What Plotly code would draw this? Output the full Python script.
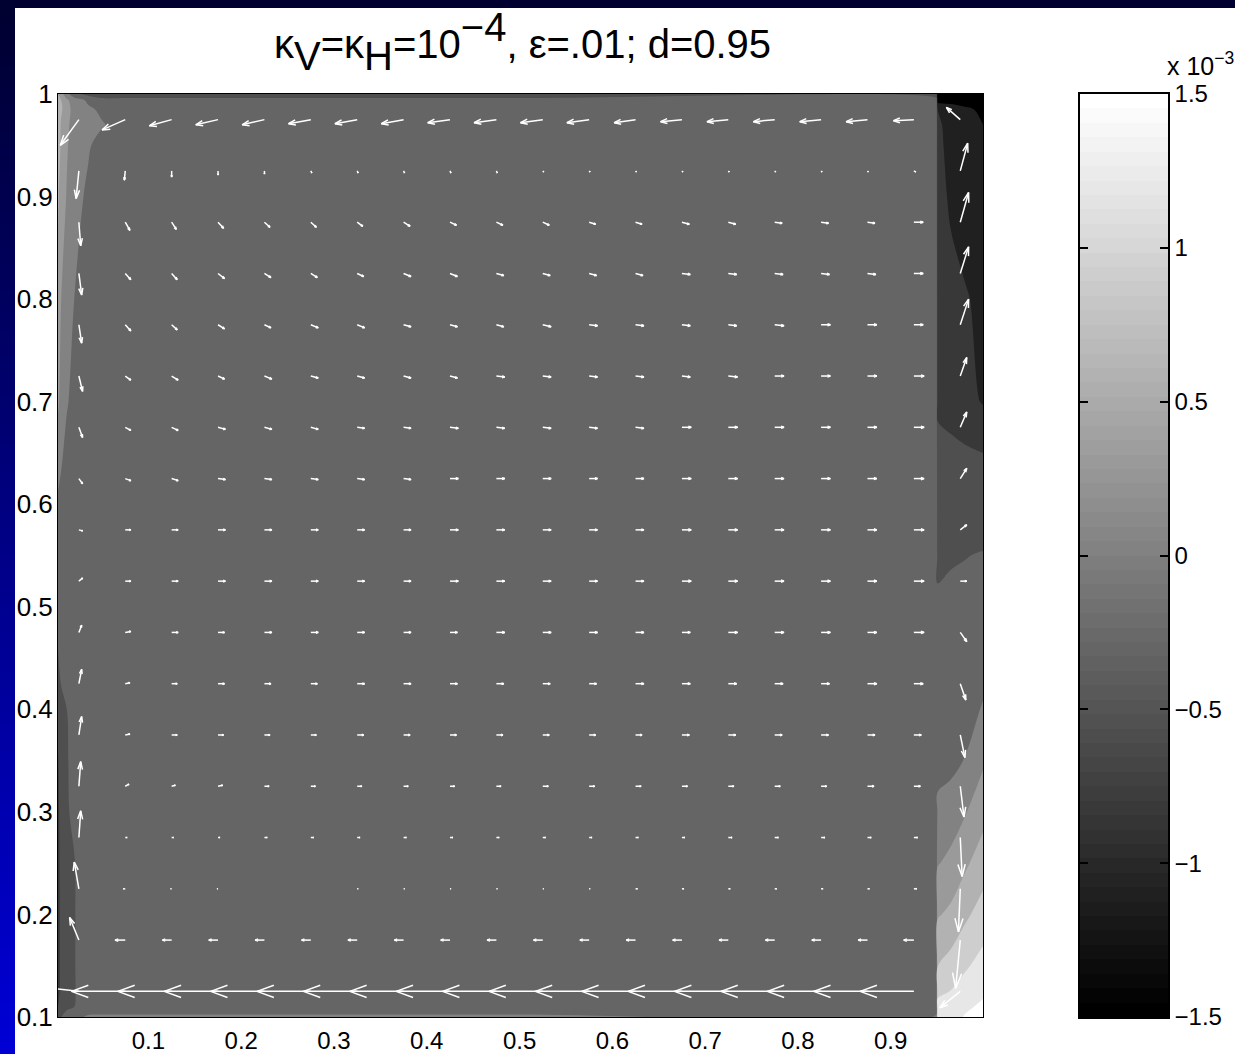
import plotly.graph_objects as go
import plotly.figure_factory as ff

# ---------------- data ----------------
# scalar field (units of 1e-3) on a non-uniform grid
field_x = [0.0025, 0.006, 0.012, 0.02, 0.035, 0.05, 0.08, 0.5, 0.9495, 0.9505, 0.965, 0.98, 0.9995]
field_y = [0.1, 0.11, 0.125, 0.15, 0.2, 0.25, 0.3, 0.35, 0.4, 0.45, 0.5, 0.55, 0.6, 0.65, 0.7, 0.8,
           0.9, 0.95, 0.97, 0.985, 0.994, 1.0]
field_z = [
    [-0.40, -0.30, -0.20, -0.10, 0.05, 0.05, 0.05, 0.05, 0.05, 1.35, 1.38, 1.52, 1.60],
    [-0.60, -0.45, -0.35, -0.30, -0.20, -0.15, -0.15, -0.15, -0.15, 1.28, 1.30, 1.45, 1.55],
    [-0.70, -0.50, -0.38, -0.31, -0.20, -0.15, -0.15, -0.15, -0.15, 1.13, 1.21, 1.335, 1.45],
    [-0.72, -0.50, -0.38, -0.31, -0.18, -0.15, -0.15, -0.15, -0.15, 0.893, 1.015, 1.155, 1.31],
    [-0.72, -0.50, -0.38, -0.31, -0.18, -0.15, -0.15, -0.15, -0.15, 0.57, 0.667, 0.84, 1.027],
    [-0.70, -0.48, -0.36, -0.31, -0.18, -0.15, -0.15, -0.15, -0.15, 0.28, 0.38, 0.545, 0.755],
    [-0.68, -0.45, -0.33, -0.24, -0.16, -0.15, -0.15, -0.15, -0.15, 0.05, 0.14, 0.275, 0.50],
    [-0.62, -0.42, -0.32, -0.22, -0.15, -0.15, -0.15, -0.15, -0.15, -0.08, -0.08, 0.01, 0.255],
    [-0.50, -0.38, -0.30, -0.20, -0.15, -0.15, -0.15, -0.15, -0.15, -0.12, -0.10, -0.10, 0.02],
    [-0.32, -0.20, -0.15, -0.15, -0.15, -0.15, -0.15, -0.15, -0.15, -0.15, -0.12, -0.10, -0.10],
    [-0.20, -0.15, -0.15, -0.15, -0.15, -0.15, -0.15, -0.15, -0.15, -0.25, -0.22, -0.20, -0.18],
    [-0.15, -0.15, -0.15, -0.15, -0.15, -0.15, -0.15, -0.15, -0.15, -0.36, -0.33, -0.31, -0.28],
    [-0.05, -0.10, -0.15, -0.15, -0.15, -0.15, -0.15, -0.15, -0.15, -0.42, -0.44, -0.46, -0.50],
    [0.15, 0.05, -0.10, -0.15, -0.15, -0.15, -0.15, -0.15, -0.15, -0.50, -0.53, -0.56, -0.60],
    [0.35, 0.20, 0.03, -0.10, -0.15, -0.15, -0.15, -0.15, -0.15, -0.66, -0.72, -0.80, -0.92],
    [0.50, 0.30, 0.12, 0.00, -0.10, -0.15, -0.15, -0.15, -0.15, -0.72, -0.80, -0.87, -0.98],
    [0.65, 0.45, 0.28, 0.10, -0.05, -0.15, -0.15, -0.15, -0.15, -0.78, -0.95, -1.05, -1.05],
    [0.75, 0.55, 0.33, 0.15, 0.03, -0.10, -0.15, -0.15, -0.15, -0.82, -1.00, -1.05, -1.10],
    [0.80, 0.55, 0.35, 0.20, 0.10, 0.02, -0.15, -0.15, -0.15, -0.85, -1.00, -1.05, -1.20],
    [0.90, 0.65, 0.40, 0.20, 0.05, -0.05, -0.15, -0.15, -0.15, -0.90, -1.00, -1.10, -1.30],
    [0.85, 0.60, 0.35, 0.15, -0.05, -0.20, -0.20, -0.20, -0.20, -1.30, -1.35, -1.45, -1.60],
    [0.60, 0.40, 0.10, -0.20, -0.40, -0.50, -0.50, -0.50, -0.50, -1.60, -1.60, -1.60, -1.60],
]

# quiver grid
quiver_x = [0.025, 0.075, 0.125, 0.175, 0.225, 0.275, 0.325, 0.375, 0.425, 0.475,
            0.525, 0.575, 0.625, 0.675, 0.725, 0.775, 0.825, 0.875, 0.925, 0.975]
quiver_y = [0.125, 0.175, 0.225, 0.275, 0.325, 0.375, 0.425, 0.475, 0.525,
            0.575, 0.625, 0.675, 0.725, 0.775, 0.825, 0.875, 0.925, 0.975]
# displayed vector components (units of 1e-3 of the axis), rows from bottom to top
quiver_u = [
    [-50, -58, -58, -58, -58, -58, -58, -58, -58, -58, -58, -58, -58, -58, -58, -58, -58, -58, -58, -22],
    [-10, -11, -10, -10, -10, -10, -10, -10, -10, -10, -10, -10, -10, -10, -10, -10, -10, -10, -11, -5],
    [-5, -2, -1, -1, 0, 0, 1, 1, 1, 1, 1, 1, 2, 2, 2, 2, 2, 2, 3, -2],
    [2, 2, 2, 2, 3, 3, 3, 3, 3, 3, 3, 3, 3, 3, 4, 4, 4, 4, 4, 2],
    [2, 4, 4, 5, 5, 5, 5, 5, 5, 5, 6, 6, 6, 6, 6, 6, 6, 7, 7, 4],
    [3, 5, 6, 6, 6, 6, 7, 7, 7, 7, 7, 7, 7, 8, 8, 8, 8, 8, 8, 5],
    [3, 5, 6, 7, 7, 7, 8, 8, 8, 8, 8, 8, 9, 9, 9, 9, 9, 10, 10, 6],
    [3, 6, 7, 7, 8, 8, 8, 8, 8, 9, 9, 9, 9, 9, 10, 10, 10, 10, 11, 7],
    [4, 6, 7, 8, 8, 8, 8, 8, 9, 9, 9, 9, 9, 10, 10, 10, 10, 10, 11, 7],
    [4, 6, 7, 8, 8, 8, 8, 8, 9, 9, 9, 9, 9, 10, 10, 10, 10, 10, 11, 7],
    [4, 6, 7, 8, 8, 8, 8, 8, 9, 9, 9, 9, 9, 10, 10, 10, 10, 10, 11, 7],
    [4, 6, 7, 8, 8, 8, 8, 8, 9, 9, 9, 9, 9, 10, 10, 10, 10, 10, 11, 7],
    [4, 6, 7, 7, 8, 8, 8, 8, 8, 9, 9, 9, 9, 9, 10, 10, 10, 10, 11, 7],
    [3, 6, 6, 7, 7, 8, 8, 8, 8, 8, 9, 9, 9, 9, 9, 10, 10, 10, 10, 9],
    [3, 6, 6, 7, 7, 7, 7, 8, 8, 8, 8, 8, 8, 9, 9, 9, 9, 9, 10, 9],
    [2, 5, 5, 6, 6, 6, 6, 7, 7, 7, 7, 7, 7, 8, 8, 8, 8, 8, 10, 9],
    [-3, -1, 0, 0, 0, 1, 1, 1, 1, 1, 1, 1, 1, 1, 1, 1, 1, 1, 2, 8],
    [-20, -25, -24, -24, -24, -24, -24, -24, -24, -24, -24, -24, -23, -23, -23, -23, -23, -23, -22, -15],
]
quiver_v = [
    [5, 0, 0, 0, 0, 0, 0, 0, 0, 0, 0, 0, 0, 0, 0, 0, 0, 0, 0, -16],
    [22, 0, 0, 0, 0, 0, 0, 0, 0, 0, 0, 0, 0, 0, 0, 0, 0, 0, 0, -47],
    [26, 0, 0, 0, 0, 0, 0, 0, 0, 0, 0, 0, 0, 0, 0, 0, 0, 0, 0, -42],
    [26, 0, 0, 0, 0, 0, 0, 0, 0, 0, 0, 0, 0, 0, 0, 0, 0, 0, 0, -38],
    [24, 2, 1, 1, 0, 0, 0, 0, 0, 0, 0, 0, 0, 0, 0, 0, 0, 0, 0, -30],
    [18, 1, 0, 0, 0, 0, 0, 0, 0, 0, 0, 0, 0, 0, 0, 0, 0, 0, 0, -22],
    [14, 1, 0, 0, 0, 0, 0, 0, 0, 0, 0, 0, 0, 0, 0, 0, 0, 0, 0, -16],
    [7, 1, 0, 0, 0, 0, 0, 0, 0, 0, 0, 0, 0, 0, 0, 0, 0, 0, 0, -9],
    [3, 0, 0, 0, 0, 0, 0, 0, 0, 0, 0, 0, 0, 0, 0, 0, 0, 0, 0, 0],
    [-1, 0, 0, 0, 0, 0, 0, 0, 0, 0, 0, 0, 0, 0, 0, 0, 0, 0, 0, 5],
    [-5, -2, -2, -1, -1, -1, -1, -1, 0, 0, 0, 0, 0, 0, 0, 0, 0, 0, 0, 10],
    [-10, -3, -3, -2, -2, -2, -1, -1, -1, -1, -1, -1, -1, 0, 0, 0, 0, 0, 0, 15],
    [-15, -4, -4, -3, -3, -2, -2, -2, -2, -1, -1, -1, -1, -1, -1, 0, 0, 0, 0, 18],
    [-18, -6, -5, -4, -3, -3, -3, -2, -2, -2, -2, -1, -1, -1, -1, -1, 0, 0, 0, 25],
    [-21, -6, -6, -5, -4, -4, -3, -3, -3, -2, -2, -2, -2, -1, -1, -1, -1, -1, 0, 26],
    [-23, -8, -7, -6, -5, -5, -4, -4, -3, -3, -3, -2, -2, -2, -2, -1, -1, -1, 0, 29],
    [-27, -9, -6, -4, -3, -2, -2, -2, -2, -2, -1, -1, -1, -1, -1, -1, -1, -1, -1, 27],
    [-25, -10, -6, -5, -5, -4, -4, -4, -3, -3, -3, -3, -3, -2, -2, -2, -2, -2, -1, 12],
]

contour_levels = [-1.5, -1.2, -0.9, -0.6, -0.3, 0.0, 0.3, 0.6, 0.9, 1.2, 1.5]
level_grays = [0, 32, 56, 79, 101, 130, 154, 178, 206, 231, 255]   # gray colour of each level
x_ticks = [0.1, 0.2, 0.3, 0.4, 0.5, 0.6, 0.7, 0.8, 0.9]
y_ticks = [0.1, 0.2, 0.3, 0.4, 0.5, 0.6, 0.7, 0.8, 0.9, 1.0]
cbar_ticks = [-1.5, -1, -0.5, 0, 0.5, 1, 1.5]
n_gray = 64

# ---------------- figure ----------------
W, H = 1235, 1054
FONT = "Liberation Sans, Arial, Helvetica, sans-serif"


def px_x(p):
    return p / W


def px_y(p):
    return 1 - p / H


# contour colour scale: band above level k gets the gray of level k
n_lv = len(contour_levels)
cscale = [[0.0, "rgb(0,0,0)"]]
for k, g in enumerate(level_grays):
    cscale.append([(k + 1) / n_lv, f"rgb({g},{g},{g})"])

fig = go.Figure()
fig.add_trace(go.Contour(
    x=field_x, y=field_y, z=field_z,
    autocontour=False,
    contours=dict(start=contour_levels[0], end=contour_levels[-1],
                  size=contour_levels[1] - contour_levels[0],
                  coloring="fill", showlines=False),
    line=dict(width=0),
    colorscale=cscale, showscale=False, hoverinfo="skip",
))

qx, qy, qu, qv = [], [], [], []
for j, yy in enumerate(quiver_y):
    for i, xx in enumerate(quiver_x):
        qx.append(xx)
        qy.append(yy)
        qu.append(quiver_u[j][i])
        qv.append(quiver_v[j][i])
q = ff.create_quiver(qx, qy, qu, qv, scale=0.001, arrow_scale=0.33, angle=0.32,
                     line=dict(color="white", width=1.5))
for tr in q.data:
    tr.update(showlegend=False, hoverinfo="skip", xaxis="x", yaxis="y")
    fig.add_trace(tr)

# colorbar drawn as its own heat-map strip
step = (cbar_ticks[-1] - cbar_ticks[0]) / n_gray
cb_y = [cbar_ticks[0] + (i + 0.5) * step for i in range(n_gray)]
fig.add_trace(go.Heatmap(
    x=[0], y=cb_y, z=[[i] for i in range(n_gray)],
    colorscale=[[0, "rgb(0,0,0)"], [1, "rgb(255,255,255)"]], zmin=0, zmax=n_gray - 1,
    showscale=False, hoverinfo="skip", xaxis="x2", yaxis="y2",
))

xtickfont = dict(family=FONT, size=24, color="black")
ytickfont = dict(family=FONT, size=26, color="black")
fig.update_layout(
    width=W, height=H,
    margin=dict(l=0, r=0, t=0, b=0),
    paper_bgcolor="white", plot_bgcolor="white",
    showlegend=False,
    xaxis=dict(domain=[px_x(58), px_x(983)], range=[field_x[0], field_x[-1]],
               showgrid=False, zeroline=False, showline=True, mirror=True,
               linecolor="black", linewidth=1, ticks="", ticklen=0, tickvals=x_ticks,
               ticktext=[f"{v:g}" for v in x_ticks], tickfont=xtickfont,
               ticklabelstandoff=2, automargin=False),
    yaxis=dict(domain=[px_y(1017), px_y(94)], range=[field_y[0], field_y[-1]],
               showgrid=False, zeroline=False, showline=True, mirror=True,
               linecolor="black", linewidth=1, ticks="", ticklen=0, tickvals=y_ticks,
               ticktext=[f"{v:g}" for v in y_ticks], tickfont=ytickfont,
               ticklabelstandoff=-1, automargin=False),
    xaxis2=dict(domain=[px_x(1080), px_x(1168)], range=[-0.5, 0.5], anchor="y2",
                showgrid=False, zeroline=False, showline=True, mirror=True,
                linecolor="black", linewidth=1.5, ticks="", showticklabels=False),
    yaxis2=dict(domain=[px_y(1017), px_y(94)], range=[cbar_ticks[0], cbar_ticks[-1]],
                anchor="x2", side="right",
                showgrid=False, zeroline=False, showline=True, mirror="ticks",
                linecolor="black", linewidth=1.5, ticks="inside", ticklen=8,
                tickcolor="black", tickwidth=1.5, tickvals=cbar_ticks,
                tickfont=xtickfont, ticklabelstandoff=0, automargin=False),
)

# title (MATLAB draws sub/superscripts at full size) and colorbar exponent
TS = 40
BIG = round(TS / 0.7)


def sub(t):
    return (f"<span style='font-size:{BIG}px'><sub>"
            f"<span style='font-size:{TS}px'>{t}</span></sub></span>")


def sup(t):
    return f"<sup><span style='font-size:{TS}px'>{t}</span></sup>"


fig.add_annotation(
    text=f"κ{sub('V')}=κ{sub('H')}=10{sup('−4')}, ε=.01; d=0.95",
    xref="paper", yref="paper", x=px_x(522), y=px_y(42),
    xanchor="center", yanchor="middle", showarrow=False,
    font=dict(family=FONT, size=TS, color="black"),
)
fig.add_annotation(
    text="x 10<sup>−3</sup>",
    xref="paper", yref="paper", x=px_x(1165), y=px_y(64),
    xanchor="left", yanchor="middle", showarrow=False,
    font=dict(family=FONT, size=25, color="black"),
)

# slide decoration: navy top band and blue gradient strip on the left
shapes = [dict(type="rect", xref="paper", yref="paper", x0=0, x1=1, y0=px_y(8), y1=1,
               fillcolor="rgb(0,0,48)", line=dict(width=0), layer="below")]
n_strip = 80
for k in range(n_strip):
    t = (k + 0.5) / n_strip
    b = int(48 + (215 - 48) * t)
    shapes.append(dict(type="rect", xref="paper", yref="paper", x0=0, x1=px_x(15),
                       y0=1 - (k + 1) / n_strip - 0.001, y1=1 - k / n_strip,
                       fillcolor=f"rgb(0,0,{b})", line=dict(width=0), layer="below"))
fig.update_layout(shapes=shapes)

fig.write_html("out.html", config={"displayModeBar": False},
               post_script="document.body.style.margin='0';")
